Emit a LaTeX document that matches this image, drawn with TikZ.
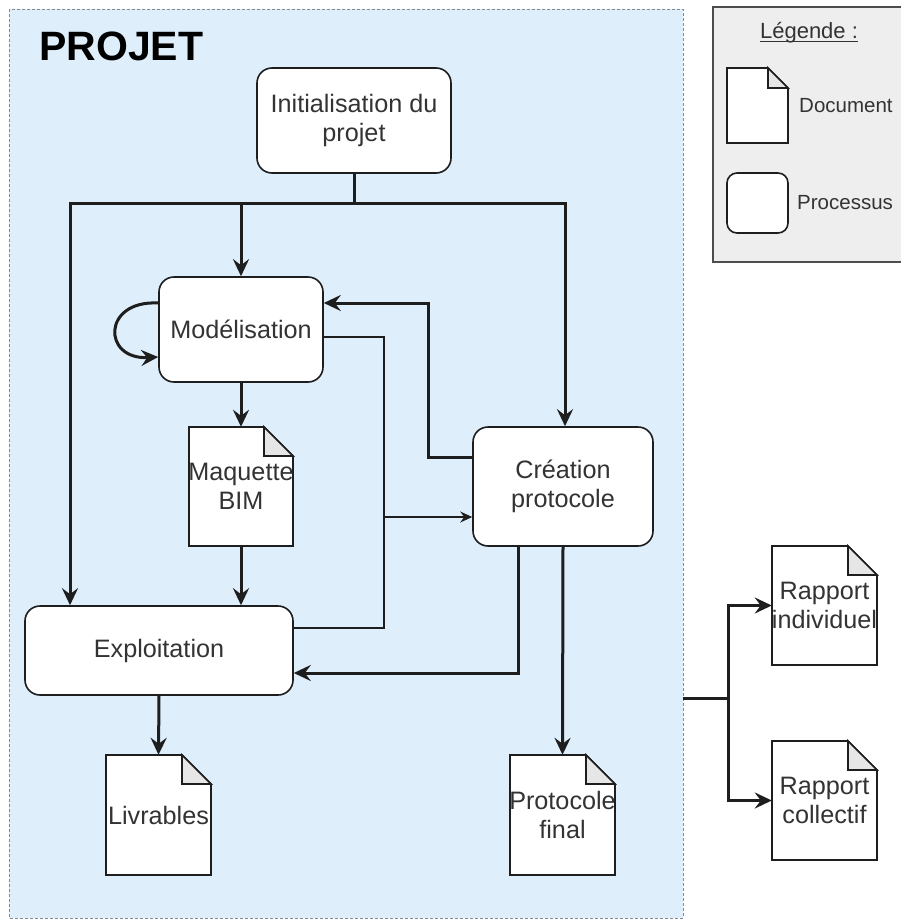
\documentclass[tikz,border=0pt]{standalone}
\usepackage{fontspec}
\setmainfont{Liberation Sans}
\usetikzlibrary{arrows.meta}

\definecolor{projfill}{HTML}{DFEEFB}
\definecolor{projedge}{HTML}{7F8A94}
\definecolor{legfill}{HTML}{EEEEEE}
\definecolor{legedge}{HTML}{4D4D4D}
\definecolor{ink}{HTML}{1E1E1E}
\definecolor{txt}{HTML}{333333}
\definecolor{foldfill}{HTML}{E6E6E6}

\newcommand\labelfont{\fontsize{25.2}{29}\selectfont}
\newcommand\legendfont{\fontsize{20.5}{24}\selectfont}

\tikzset{
  proc/.style={draw=ink, line width=1.6pt, fill=white, rounded corners=15pt,
    align=center, text=txt, font=\labelfont, inner sep=0pt},
  docline/.style={draw=ink, line width=1.6pt, fill=white, line join=miter},
  foldline/.style={draw=ink, line width=1.6pt, fill=foldfill, line join=miter},
  doctext/.style={align=center, text=txt, font=\labelfont, inner sep=0pt},
  heavy/.style={draw=ink, line width=3pt},
  heavyarrow/.style={heavy, -{Stealth[length=17pt,width=16pt,inset=6pt]}},
  light/.style={draw=ink, line width=1.5pt},
  lightarrow/.style={light, -{Stealth[length=12pt,width=11pt,inset=4pt]}},
}

% document symbol: name, centre x, centre y, width, height, fold, text
\newcommand\docnode[7]{%
  \pgfmathsetmacro\dl{#2-#4/2}\pgfmathsetmacro\dr{#2+#4/2}%
  \pgfmathsetmacro\dt{#3-#5/2}\pgfmathsetmacro\db{#3+#5/2}%
  \pgfmathsetmacro\dfx{\dr-#6}\pgfmathsetmacro\dfy{\dt+#6}%
  \path[docline] (\dl,\dt) -- (\dfx,\dt) -- (\dr,\dfy) -- (\dr,\db) -- (\dl,\db) -- cycle;
  \path[foldline] (\dfx,\dt) -- (\dfx,\dfy) -- (\dr,\dfy) -- cycle;
  \node[doctext, minimum width=#4pt, minimum height=#5pt] (#1) at (#2,#3) {#7};
}

\begin{document}
\begin{tikzpicture}[x=1pt, y=-1pt]
  \useasboundingbox[fill=white] (0,0) rectangle (900,921);

  % project area
  \draw[projedge, fill=projfill, line width=1pt, dash pattern=on 3pt off 2pt]
    (9,9) rectangle (683,918);
  \node[anchor=base west, inner sep=0pt, font=\fontsize{41}{48}\bfseries\selectfont, text=black]
    (titre) at (39,60) {PROJET};

  % legend
  \draw[legedge, fill=legfill, line width=1.2pt] (713,7) rectangle (912,262);
  \node[anchor=base, inner sep=0pt, font=\fontsize{22}{26}\selectfont, text=txt] (leg) at (809,38) {Légende :};
  \draw[txt, line width=1pt] ([yshift=-3pt]leg.base west) -- ([yshift=-3pt]leg.base east);
  \docnode{legdoc}{757.5}{105.5}{61}{75}{20}{}
  \node[proc, rounded corners=10pt, minimum width=61pt, minimum height=60pt] (legproc) at (757.5,203) {};
  \node[anchor=west, inner sep=0pt, font=\legendfont, text=txt] (legdoctxt) at (799,106) {Document};
  \node[anchor=west, inner sep=0pt, font=\legendfont, text=txt] (legproctxt) at (797,203) {Processus};

  % processes
  \node[proc, minimum width=194pt, minimum height=105pt] (init) at (354,120.5) {Initialisation du\\projet};
  \node[proc, minimum width=164pt, minimum height=105pt] (mod) at (241,329.5) {Modélisation};
  \node[proc, minimum width=180pt, minimum height=119pt] (crea) at (563,486.5) {Création\\protocole};
  \node[proc, minimum width=268pt, minimum height=89pt] (expl) at (159,650.5) {Exploitation};

  % documents
  \docnode{maq}{241}{486.5}{104}{119}{29}{Maquette\\BIM}
  \docnode{livr}{158.5}{815}{105}{120}{29}{Livrables}
  \docnode{pfin}{562.5}{815}{105}{120}{29}{Protocole\\final}
  \docnode{rind}{824.5}{605.5}{105}{119}{29}{Rapport\\individuel}
  \docnode{rcol}{824.5}{800.5}{105}{119}{29}{Rapport\\collectif}

  % distribution from the project start
  \coordinate (busL) at (70,203);
  \coordinate (busR) at (565,203);
  \draw[heavy] (init.south) -- (init.south |- busL);
  \draw[heavyarrow] (init.south |- busL) -- (busL) -- (busL |- expl.north);
  \draw[heavyarrow] (init.south |- busL) -- (busR) -- (busR |- crea.north);
  \draw[heavyarrow] (mod.north |- busL) -- (mod.north);

  % modelling loop and outputs
  \draw[heavyarrow] ([yshift=26.5pt]mod.west) .. controls (102,300) and (102,360) .. ([yshift=-27.5pt]mod.west);
  \draw[heavyarrow] (mod.south) -- (maq.north);
  \draw[heavyarrow] (maq.south) -- (maq.south |- expl.north);

  % protocol feedback to modelling
  \coordinate (retour) at (428,303);
  \draw[heavyarrow] ([yshift=29.5pt]crea.west) -| (retour) -- ([yshift=26.5pt]mod.east);

  % thin links towards the protocol
  \coordinate (busT) at (384,337);
  \coordinate (busB) at (384,628);
  \coordinate (busC) at (384,517);
  \draw[light] ([yshift=-7.5pt]mod.east) -- (busT) -- (busB) -- (busB -| expl.east);
  \draw[lightarrow] (busC) -- (busC -| crea.west);

  % protocol outputs
  \coordinate (crx) at (518,673);
  \draw[heavyarrow] (crea.south -| crx) -- (crx) -- (crx -| expl.east);
  \draw[heavyarrow] (crea.south) -- (pfin.north);
  \draw[heavyarrow] (expl.south) -- (livr.north);

  % reports leaving the project
  \coordinate (sortie) at (683,698);
  \coordinate (fourche) at (728,698);
  \draw[heavy] (sortie) -- (fourche);
  \draw[heavyarrow] (fourche) |- (rind.west);
  \draw[heavyarrow] (fourche) |- (rcol.west);
\end{tikzpicture}
\end{document}
